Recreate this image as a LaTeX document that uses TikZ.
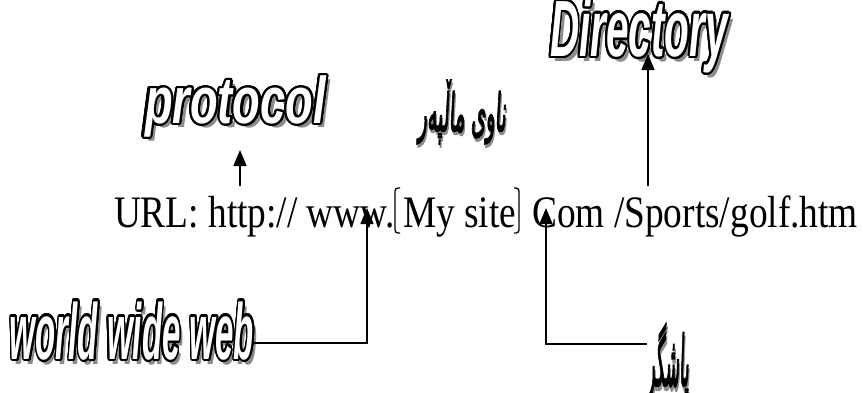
\documentclass[tikz,border=0pt]{standalone}
\usepackage{fontspec}
\usepackage{graphicx}
\usepackage{contour}
\usetikzlibrary{arrows.meta}
\TeXXeTstate=1
\newfontfamily\urlfont[FakeStretch=0.83]{Liberation Serif}
\newfontfamily\artfont[FakeStretch=0.7]{Liberation Sans}
\newfontfamily\arabicfont[Script=Arabic,FakeBold=3,FakeSlant=0.15]{DejaVu Sans}
\colorlet{shadowgray}{black!45}
\contourlength{1.3pt}
\contournumber{24}
% #1 = height (em), #2 = depth (em), #3 = text
\newcommand{\wart}[3]{{\artfont\bfseries\itshape\fontsize{40}{44}\selectfont\raisebox{0pt}[#1em][#2em]{\makebox[0pt][l]{\smash{\hspace{0.07em}\raisebox{-0.07em}{\textcolor{shadowgray}{#3}}}}{\color{white}\contour{black}{#3}}}}}
\newcommand{\arart}[1]{{\arabicfont\fontsize{40}{44}\selectfont\makebox[0pt][l]{\smash{\hspace{0.06em}\raisebox{-0.06em}{\textcolor{shadowgray}{\beginR#1\endR}}}}\beginR#1\endR}}
\tikzset{
  wa/.style={inner sep=0pt, outer sep=0pt},
  urltext/.style={inner sep=0pt, outer sep=0pt, font=\urlfont\fontsize{45}{50}\selectfont},
  arr/.style={line width=1.5pt, -{Triangle[length=16pt,width=13pt]}},
  brack/.style={line width=1.3pt, rounded corners=3pt}
}
\begin{document}
\begin{tikzpicture}[x=1pt,y=-1pt]
\useasboundingbox (0,0) rectangle (863,392);
% word-art labels
\node[wa, anchor=north west] (dir) at (550,-2) {\resizebox*{178pt}{75pt}{\wart{0.73}{0.21}{Directory}}};
\node[wa, anchor=north west] (proto) at (145,75) {\resizebox*{181pt}{62pt}{\wart{0.73}{0.21}{protocol}}};
\node[wa, anchor=north west] (www) at (10,301) {\resizebox*{244pt}{58pt}{\wart{0.73}{0}{world wide web}}};
\node[wa, anchor=north west] (name) at (418,80) {\resizebox*{88pt}{64pt}{\arart{ناوی ماڵپەر}}};
\node[wa, anchor=north west] (suffix) at (647,323) {\resizebox*{42pt}{80pt}{\arart{پاشگر}}};
% URL line
\node[urltext, anchor=base west] (url) at (114,227) {URL: http:// www.};
\node[urltext, anchor=base west] (site) at (403,227) {My site};
\node[urltext, anchor=base east] (com) at (858,227) {Com /Sports/golf.htm};
% brackets
\draw[brack] (400,188) -- (395,188) -- (395,233) -- (400,233);
\draw[brack] (514,188) -- (519,188) -- (519,233) -- (514,233);
% connector points
\coordinate (pa) at (240,186);
\coordinate (pt) at (240,150);
\coordinate (da) at (648,186);
\coordinate (dt) at (648,54);
\coordinate (wt) at (367,208);
\coordinate (wc) at (367,343);
\coordinate (ct) at (546,208);
\coordinate (cc) at (546,344);
% arrows
\draw[arr] (pa) -- (pt);
\draw[arr] (da) -- (dt);
\draw[arr] (www.east |- wc) -- (wc) -- (wt);
\draw[arr] (suffix.west |- cc) -- (cc) -- (ct);
\end{tikzpicture}
\end{document}
